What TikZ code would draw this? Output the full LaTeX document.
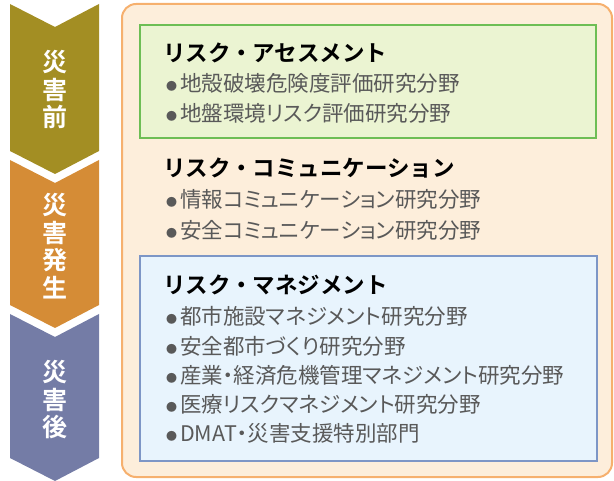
\documentclass[tikz,border=0pt]{standalone}
\usepackage{fontspec}
\usepackage{xcolor}
\usepackage{tikz}
\usetikzlibrary{calc,positioning}
\setmainfont{Noto Sans CJK JP}[BoldFont={Noto Sans CJK JP Bold}]
\newfontfamily\fieldfont{Noto Sans CJK JP}[RawFeature=+palt]

\definecolor{PhaseOlive}{RGB}{163,142,35}
\definecolor{PhaseOrange}{RGB}{213,140,54}
\definecolor{PhaseSlate}{RGB}{116,124,166}
\definecolor{PanelFill}{RGB}{253,238,219}
\definecolor{PanelLine}{RGB}{246,176,110}
\definecolor{AssessFill}{RGB}{235,244,210}
\definecolor{AssessLine}{RGB}{109,190,85}
\definecolor{ManageFill}{RGB}{232,244,253}
\definecolor{ManageLine}{RGB}{125,150,198}
\definecolor{ItemGray}{RGB}{89,89,89}

\newcommand{\itemdot}{{\fontsize{11}{11}\selectfont\raisebox{1.5pt}{●}}\hspace{3pt}}

\begin{document}
\begin{tikzpicture}[x=1pt,y=-1pt,
  phase/.style={text=white,font=\bfseries\fontsize{25}{27.5}\selectfont,align=center,inner sep=0},
  heading/.style={anchor=base west,inner sep=0,font=\bfseries\fontsize{22.5}{22.5}\selectfont},
  field/.style={anchor=base west,inner sep=0,text=ItemGray,font=\fieldfont\fontsize{21.5}{21.5}\selectfont}]
% Chevron geometry, px
\pgfmathsetmacro{\xl}{10}  % left side
\pgfmathsetmacro{\xr}{99}  % right side
\pgfmathsetmacro{\xc}{55}  % centre line
\pgfmathsetmacro{\d}{23}   % depth of notch and point

\useasboundingbox (0,0) rectangle (614,481);

% Phase arrows
\fill[PhaseOlive] (\xl,4) -- (\xc,{4+\d}) -- (\xr,4) -- (\xr,151) -- (\xc,{151+\d}) -- (\xl,151) -- cycle;
\fill[PhaseOrange] (\xl,160) -- (\xc,{160+\d}) -- (\xr,160) -- (\xr,305) -- (\xc,{305+\d}) -- (\xl,305) -- cycle;
\fill[PhaseSlate] (\xl,314) -- (\xc,{314+\d}) -- (\xr,314) -- (\xr,458) -- (\xc,{458+\d}) -- (\xl,458) -- cycle;

\node[phase] (before) at (\xc,89.5) {災\\害\\前};
\node[phase] (during) at (\xc,246) {災\\害\\発\\生};
\node[phase] (after) at (\xc,400) {災\\害\\後};

% Research panel
\draw[line width=2pt,PanelLine,fill=PanelFill,rounded corners=14pt] (122,4) rectangle (612,477);
\draw[line width=2pt,AssessLine,fill=AssessFill] (140,25) rectangle (596,138);
\draw[line width=2pt,ManageLine,fill=ManageFill] (140,256) rectangle (597,461);

% Risk assessment
\node[heading] (assess) at (163,62) {リスク・アセスメント};
\node[field] (crust) at (166,92) {\itemdot 地殻破壊危険度評価研究分野};
\node[field] (ground) at (166,122) {\itemdot 地盤環境リスク評価研究分野};

% Risk communication
\node[heading] (comm) at (163,177) {リスク・コミュニケーション};
\node[field] (info) at (166,208) {\itemdot 情報コミュニケーション研究分野};
\node[field] (safety) at (166,239) {\itemdot 安全コミュニケーション研究分野};

% Risk management
\node[heading] (manage) at (163,294) {リスク・マネジメント};
\node[field] (urban) at (166,325) {\itemdot 都市施設マネジメント研究分野};
\node[field] (city) at (166,355) {\itemdot 安全都市づくり研究分野};
\node[field] (industry) at (166,384) {\itemdot 産業・経済危機管理マネジメント研究分野};
\node[field] (medical) at (166,413) {\itemdot 医療リスクマネジメント研究分野};
\node[field] (dmat) at (166,442) {\itemdot DMAT・災害支援特別部門};
\end{tikzpicture}
\end{document}
